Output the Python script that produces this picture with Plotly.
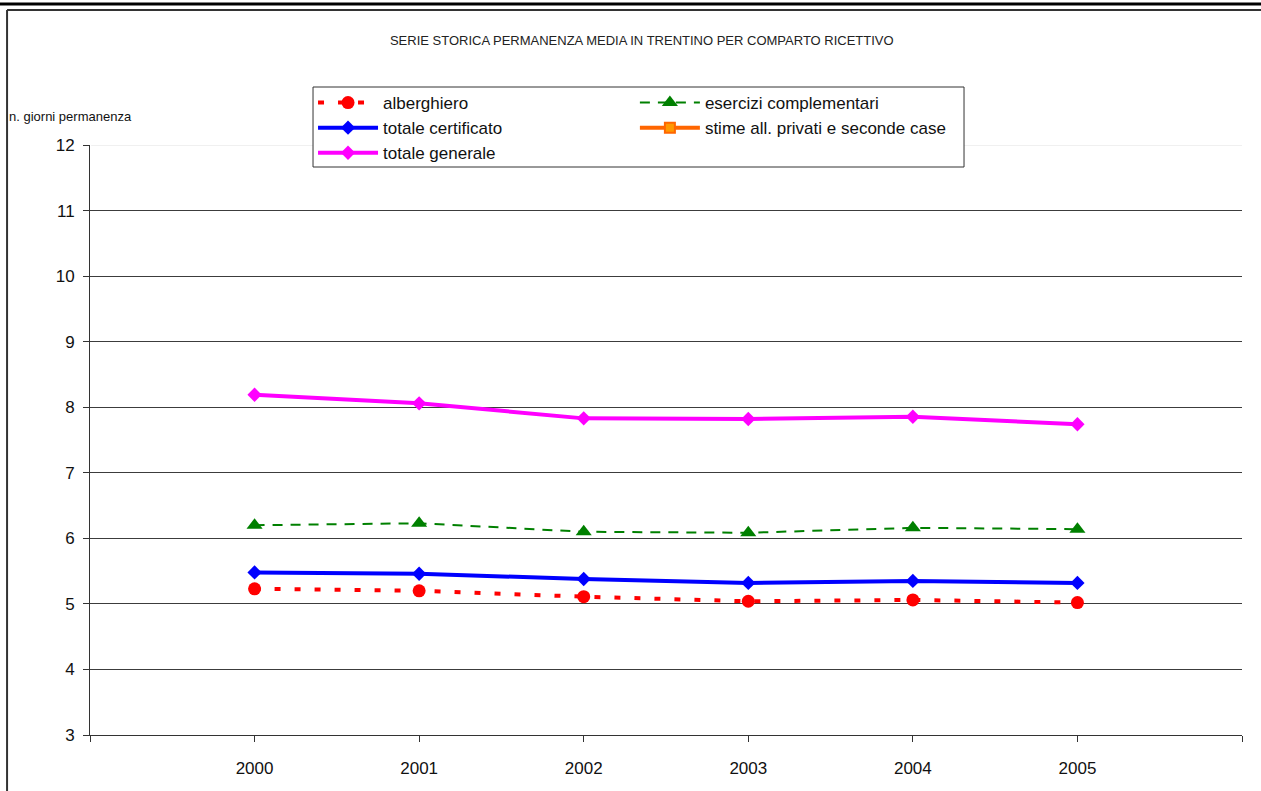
import plotly.graph_objects as go

# Anni di riferimento
anni = [2000, 2001, 2002, 2003, 2004, 2005]

# Permanenza media (giorni) per comparto ricettivo
alberghiero = [5.23, 5.20, 5.11, 5.04, 5.06, 5.02]
esercizi_complementari = [6.20, 6.23, 6.10, 6.085, 6.16, 6.14]
totale_certificato = [5.48, 5.46, 5.38, 5.32, 5.35, 5.32]
stime_privati_seconde_case = [None, None, None, None, None, None]
totale_generale = [8.19, 8.06, 7.83, 7.82, 7.855, 7.74]

# Tacche dell'asse x (inclusi gli estremi senza etichetta)
tick_anni = [1999, 2000, 2001, 2002, 2003, 2004, 2005, 2006]
tick_testo = ["", "2000", "2001", "2002", "2003", "2004", "2005", ""]

FONT = "Liberation Sans Narrow, Arial Narrow, Liberation Sans, Arial, sans-serif"

fig = go.Figure()

# prima colonna della legenda -> "legend", seconda colonna -> "legend2"
fig.add_trace(go.Scatter(
    x=anni, y=alberghiero, name="alberghiero", mode="lines+markers",
    line=dict(color="#FF0000", width=4, dash="6px,14px"),
    marker=dict(symbol="circle", size=13, color="#FF0000"),
    legend="legend", legendrank=1,
))
fig.add_trace(go.Scatter(
    x=anni, y=esercizi_complementari, name="esercizi complementari", mode="lines+markers",
    line=dict(color="#008000", width=2, dash="10px,8px"),
    marker=dict(symbol="triangle-up", size=14, color="#008000"),
    legend="legend2", legendrank=1,
))
fig.add_trace(go.Scatter(
    x=anni, y=totale_certificato, name="totale certificato", mode="lines+markers",
    line=dict(color="#0000FF", width=4),
    marker=dict(symbol="diamond", size=11, color="#0000FF"),
    legend="legend", legendrank=2,
))
fig.add_trace(go.Scatter(
    x=anni, y=stime_privati_seconde_case, name="stime all. privati e seconde case",
    mode="lines+markers",
    line=dict(color="#FF6600", width=4),
    marker=dict(symbol="square", size=10, color="#FF9900", line=dict(color="#FF6600", width=2)),
    legend="legend2", legendrank=2,
))
fig.add_trace(go.Scatter(
    x=anni, y=totale_generale, name="totale generale", mode="lines+markers",
    line=dict(color="#FF00FF", width=4),
    marker=dict(symbol="diamond", size=11, color="#FF00FF"),
    legend="legend", legendrank=3,
))

legend_common = dict(
    orientation="v", xanchor="left", y=1.1017, yanchor="top",
    bgcolor="rgba(0,0,0,0)", borderwidth=0,
    font=dict(family=FONT, size=17, color="#111111"),
    itemwidth=60, traceorder="normal",
)

fig.update_layout(
    width=1261, height=791,
    margin=dict(l=90, r=19, t=145, b=56),
    paper_bgcolor="white", plot_bgcolor="white",
    font=dict(family=FONT, size=17, color="#111111"),
    title=dict(
        text="SERIE STORICA PERMANENZA MEDIA IN TRENTINO PER COMPARTO RICETTIVO",
        x=0.479, xanchor="center", xref="paper", y=0.949, yanchor="middle",
        font=dict(family=FONT, size=13, color="#222222"),
    ),
    showlegend=True,
    legend=dict(x=0.1936, **legend_common),
    legend2=dict(x=0.473, **legend_common),
    xaxis=dict(
        range=[1999, 2006], tickmode="array", tickvals=tick_anni, ticktext=tick_testo,
        showgrid=False, zeroline=False,
        showline=True, linecolor="#333333", linewidth=1,
        ticks="outside", ticklen=6, tickcolor="#333333",
        ticklabelstandoff=12,
        tickfont=dict(family=FONT, size=17, color="#111111"),
    ),
    yaxis=dict(
        range=[3, 12], dtick=1, tick0=3,
        showgrid=True, gridcolor="#3c3c3c", gridwidth=1, zeroline=False,
        showline=True, linecolor="#333333", linewidth=1,
        ticks="outside", ticklen=6, tickcolor="#333333",
        ticklabelstandoff=5,
        tickfont=dict(family=FONT, size=17, color="#111111"),
    ),
    annotations=[dict(
        text="n. giorni permanenza", xref="paper", yref="paper",
        x=-0.072, y=1.049, xanchor="left", yanchor="middle", showarrow=False,
        font=dict(family=FONT, size=13, color="#111111"),
    )],
    shapes=[
        # linea di griglia superiore più chiara
        dict(type="line", xref="paper", yref="y", x0=0.001, x1=1, y0=12, y1=12,
             line=dict(color="#e2e2e2", width=1), layer="below"),
        # riquadro della legenda
        dict(type="rect", xref="paper", yref="paper", x0=0.1936, x1=0.7587,
             y0=0.9627, y1=1.0983, fillcolor="white",
             line=dict(color="#333333", width=1), layer="above"),
        # linea spessa in testa alla pagina
        dict(type="line", xref="paper", yref="paper", x0=-0.1, x1=1.1,
             y0=1.2390, y1=1.2390, line=dict(color="black", width=3)),
        # cornice dell'area grafico
        dict(type="line", xref="paper", yref="paper", x0=-0.072, x1=1.1,
             y0=1.2288, y1=1.2288, line=dict(color="#333333", width=2)),
        dict(type="line", xref="paper", yref="paper", x0=-0.072, x1=-0.072,
             y0=1.2288, y1=-0.1, line=dict(color="#333333", width=2)),
    ],
)

fig.write_html("out.html", config={"displayModeBar": False})
